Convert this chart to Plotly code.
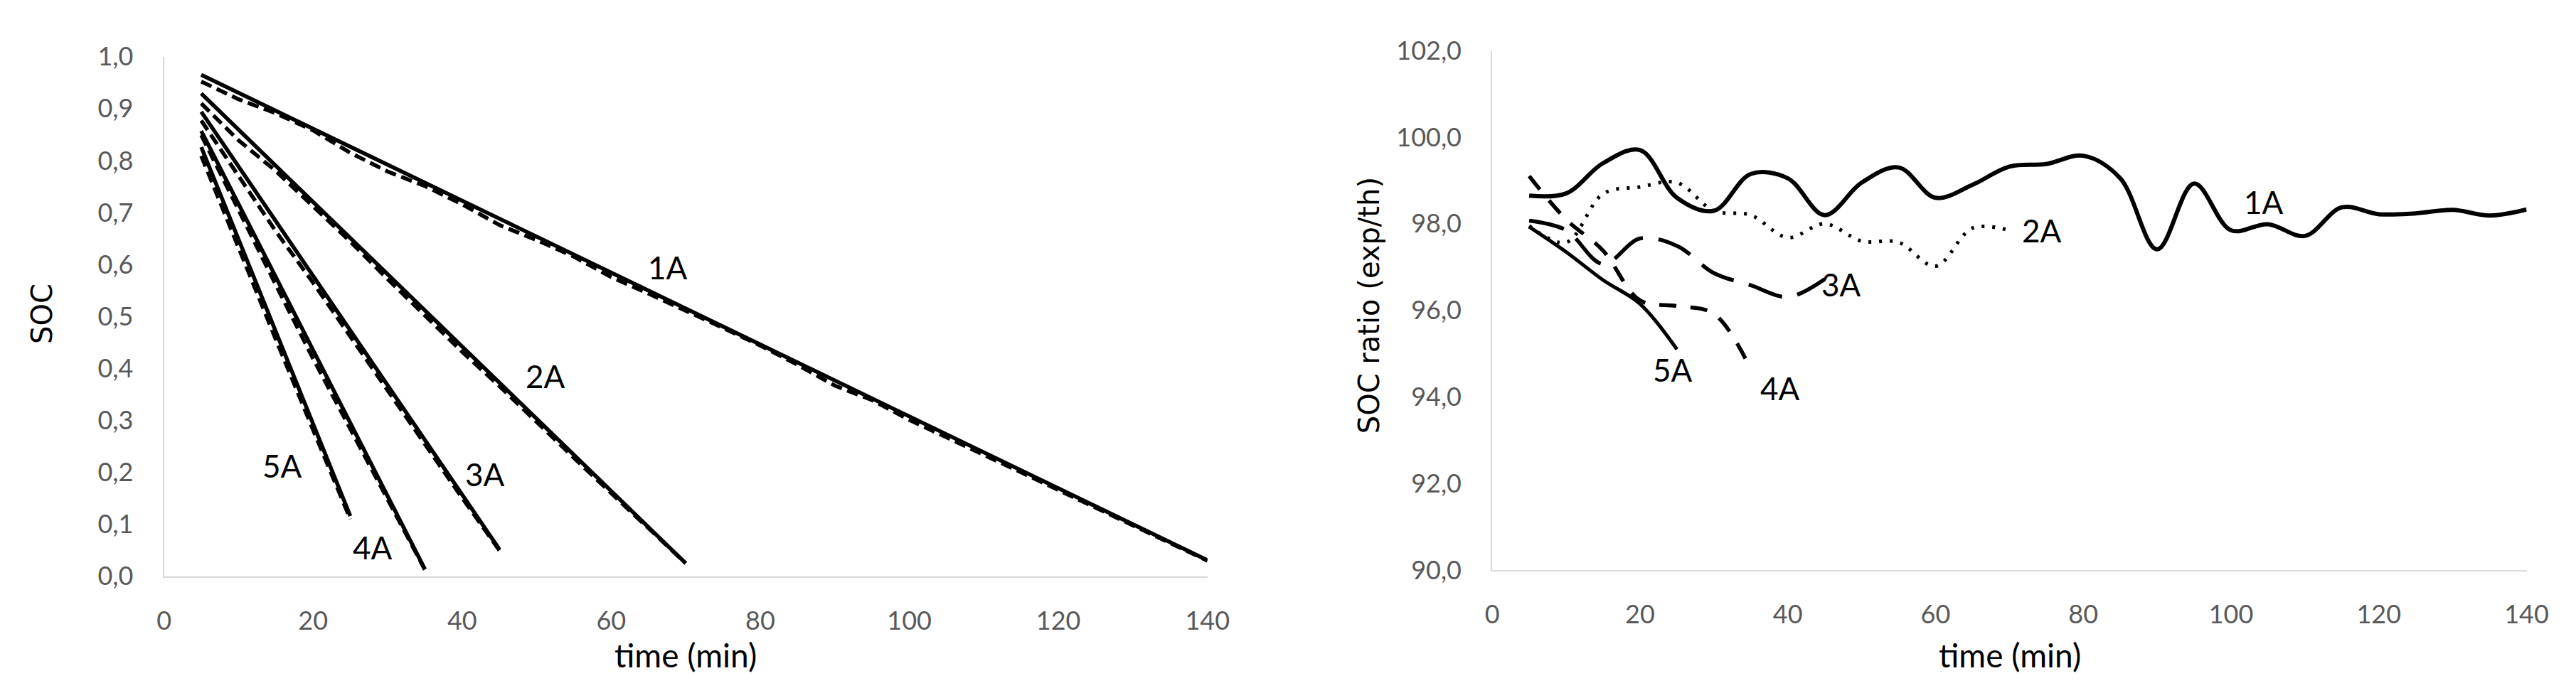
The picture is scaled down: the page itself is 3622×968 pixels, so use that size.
import plotly.graph_objects as go

# -------- data: left panel (SOC vs time) --------
# solid = straight reference lines (start / end)
t_th_1A = [5, 140]
soc_th_1A = [0.965, 0.031]
t_th_2A = [5, 70]
soc_th_2A = [0.929, 0.025]
t_th_3A = [5, 45]
soc_th_3A = [0.894, 0.052]
t_th_4A = [5, 35]
soc_th_4A = [0.857, 0.014]
t_th_5A = [5, 25]
soc_th_5A = [0.826, 0.116]

# dashed = measured SOC, every 5 min
t_1A = [5, 10, 15, 20, 25, 30, 35, 40, 45, 50, 55, 60, 65, 70, 75, 80, 85, 90, 95, 100,
        105, 110, 115, 120, 125, 130, 135, 140]
soc_1A = [0.952, 0.918, 0.891, 0.858, 0.815, 0.779, 0.751, 0.716, 0.676, 0.647, 0.615, 0.576,
          0.544, 0.512, 0.478, 0.444, 0.407, 0.367, 0.339, 0.301, 0.268, 0.233, 0.200, 0.166,
          0.132, 0.098, 0.064, 0.030]
t_2A = [5, 10, 15, 20, 25, 30, 35, 40, 45, 50, 55, 60, 65, 70]
soc_2A = [0.910, 0.839, 0.780, 0.712, 0.644, 0.572, 0.503, 0.432, 0.366, 0.296, 0.228, 0.160,
          0.093, 0.025]
t_3A = [5, 10, 15, 20, 25, 30, 35, 40, 45]
soc_3A = [0.877, 0.772, 0.664, 0.565, 0.461, 0.356, 0.254, 0.151, 0.050]
t_4A = [5, 10, 15, 20, 25, 30, 35]
soc_4A = [0.849, 0.703, 0.561, 0.419, 0.283, 0.148, 0.013]
t_5A = [5, 10, 15, 20, 25]
soc_5A = [0.809, 0.631, 0.456, 0.282, 0.110]

# -------- data: right panel (SOC ratio exp/th, %) --------
ratio_1A = [98.65, 98.7, 99.4, 99.7, 98.6, 98.3, 99.15, 99.05, 98.2, 98.95, 99.3, 98.6,
            98.9, 99.32, 99.38, 99.57, 99.05, 97.41, 98.93, 97.85, 97.99, 97.72, 98.38, 98.22,
            98.24, 98.32, 98.19, 98.33]
ratio_2A = [97.95, 97.57, 98.69, 98.85, 98.95, 98.3, 98.2, 97.68, 98.0, 97.6, 97.57, 97.02,
            97.9, 97.85]
ratio_3A = [98.07, 97.85, 97.07, 97.66, 97.49, 96.86, 96.58, 96.31, 96.72]
ratio_4A = [99.1, 98.1, 97.38, 96.23, 96.1, 95.92, 94.64]
ratio_5A = [97.93, 97.35, 96.7, 96.15, 95.1]

# curve labels
lbl_names = ["1A", "2A", "3A", "4A", "5A"]
lbl_left_x = [67.6, 51.2, 43.1, 28.0, 15.9]
lbl_left_y = [0.595, 0.385, 0.197, 0.056, 0.213]
lbl_right_x = [104.4, 74.4, 47.2, 39.0, 24.4]
lbl_right_y = [98.5, 97.85, 96.6, 94.2, 94.63]

# -------- figure --------
W, H = 3622, 968
fig = go.Figure()

line_solid = dict(color="black", width=5.5)
line_dash = dict(color="black", width=5.5, dash="16px,8px")

for tx, ty in [(t_th_1A, soc_th_1A), (t_th_2A, soc_th_2A), (t_th_3A, soc_th_3A),
               (t_th_4A, soc_th_4A), (t_th_5A, soc_th_5A)]:
    fig.add_trace(go.Scatter(x=tx, y=ty, mode="lines", line=line_solid,
                             xaxis="x", yaxis="y"))
for tx, ty in [(t_1A, soc_1A), (t_2A, soc_2A), (t_3A, soc_3A), (t_4A, soc_4A), (t_5A, soc_5A)]:
    fig.add_trace(go.Scatter(x=tx, y=ty, mode="lines", line=line_dash,
                             xaxis="x", yaxis="y"))

# right panel, smoothed lines like the spreadsheet original
right_series = [
    (t_1A, ratio_1A, dict(color="black", width=6)),
    (t_2A, ratio_2A, dict(color="black", width=5, dash="4px,11px")),
    (t_3A, ratio_3A, dict(color="black", width=5.5, dash="50px,22px")),
    (t_4A, ratio_4A, dict(color="black", width=5.5, dash="24px,20px")),
    (t_5A, ratio_5A, dict(color="black", width=5)),
]
for tx, ty, ln in right_series:
    fig.add_trace(go.Scatter(x=tx, y=ty, mode="lines", line=dict(shape="spline", smoothing=1, **ln),
                             xaxis="x2", yaxis="y2"))

# -------- annotations --------
annos = []
lbl_font = dict(family="Lato", size=44, color="black")
for name, ax_, ay_ in zip(lbl_names, lbl_left_x, lbl_left_y):
    annos.append(dict(x=ax_, y=ay_, xref="x", yref="y", text=name, showarrow=False,
                      xanchor="center", yanchor="middle", font=lbl_font))
for name, ax_, ay_ in zip(lbl_names, lbl_right_x, lbl_right_y):
    annos.append(dict(x=ax_, y=ay_, xref="x2", yref="y2", text=name, showarrow=False,
                      xanchor="center", yanchor="middle", font=lbl_font))

# axis titles
title_font = dict(family="Lato", size=46, color="black")
side_font = dict(family="DejaVu Sans", size=40, color="black")
annos += [
    dict(x=957 / W, y=1 - 933 / H, text="time (min)", font=title_font),
    dict(x=2840 / W, y=1 - 933 / H, text="time (min)", font=title_font),
    dict(x=42 / W, y=1 - 430 / H, text="SOC", textangle=-90, font=side_font),
    dict(x=1929 / W, y=1 - 418 / H, text="SOC ratio (exp/th)", textangle=-90, font=side_font),
]
for a in annos[-4:]:
    a.update(xref="paper", yref="paper", showarrow=False, xanchor="center", yanchor="middle")

# -------- axes --------
axis_style = dict(
    showline=True, linecolor="#d9d9d9", linewidth=2, mirror=False,
    showgrid=False, zeroline=False,
    ticks="outside", tickcolor="rgba(0,0,0,0)",
    tickfont=dict(family="Lato", size=36, color="#595959"),
)
x_style = dict(axis_style, range=[0, 140], tickvals=[0, 20, 40, 60, 80, 100, 120, 140],
               tickformat="d", ticklen=30)

fig.update_layout(
    width=W, height=H,
    margin=dict(l=0, r=0, t=0, b=0),
    paper_bgcolor="white", plot_bgcolor="white",
    showlegend=False,
    separators=", ",
    xaxis=dict(x_style, domain=[215 / W, 1699 / W], anchor="y"),
    yaxis=dict(axis_style, domain=[1 - 817 / H, 1 - 51 / H], anchor="x",
               range=[0, 1.0], dtick=0.1, tickformat=".1f", ticklen=34),
    xaxis2=dict(x_style, domain=[2104 / W, 3575 / W], anchor="y2"),
    yaxis2=dict(axis_style, domain=[1 - 808 / H, 1 - 42 / H], anchor="x2",
                range=[90, 102], dtick=2, tickformat=".1f", ticklen=34),
    annotations=annos,
)

fig.write_html("out.html")
